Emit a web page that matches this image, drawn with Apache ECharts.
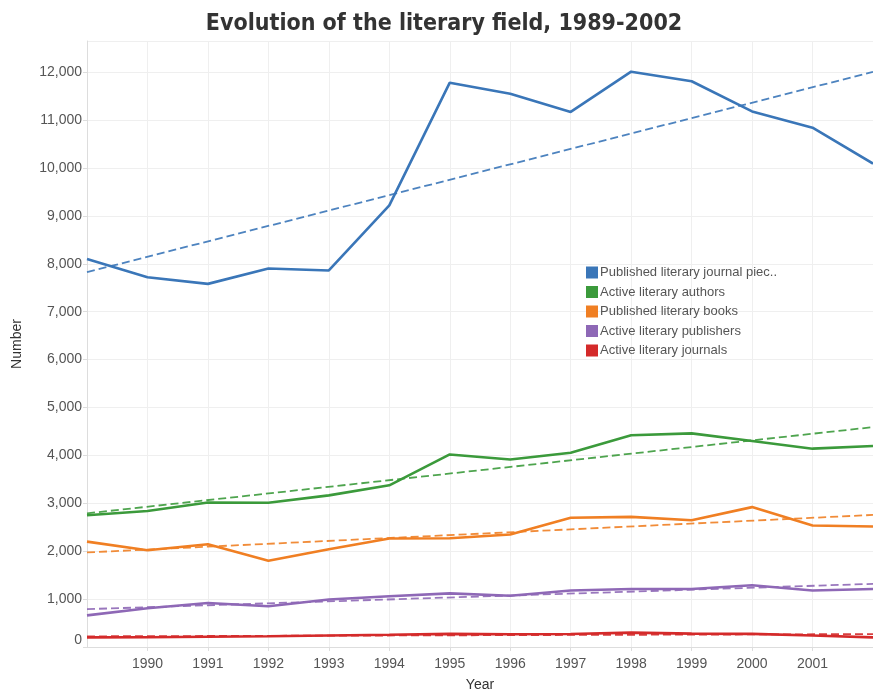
<!DOCTYPE html>
<html>
<head>
<meta charset="utf-8">
<title>Evolution of the literary field, 1989-2002</title>
<script src="https://cdn.jsdelivr.net/npm/echarts@6/dist/echarts.min.js"></script>
<style>
  html, body { margin: 0; padding: 0; background: #fff; }
  #chart { width: 873px; height: 693px; }
</style>
</head>
<body>
<div id="chart"></div>
<script>
// values, one per year
const years = [1989, 1990, 1991, 1992, 1993, 1994, 1995, 1996, 1997, 1998, 1999, 2000, 2001, 2002];
const journalPieces = [8100, 7720, 7580, 7900, 7860, 9220, 11780, 11550, 11170, 12010, 11810, 11180, 10840, 10090];
const authors = [2750, 2840, 3015, 3010, 3165, 3375, 4020, 3915, 4055, 4420, 4460, 4300, 4140, 4195];
const books = [2200, 2020, 2145, 1800, 2040, 2265, 2270, 2347, 2697, 2717, 2647, 2920, 2535, 2515];
const publishers = [660, 810, 920, 850, 990, 1060, 1120, 1070, 1180, 1210, 1210, 1290, 1180, 1210];
const journals = [200, 205, 215, 225, 240, 255, 275, 265, 270, 300, 280, 275, 240, 200];

const seriesNames = [
  'Published literary journal piec..',
  'Active literary authors',
  'Published literary books',
  'Active literary publishers',
  'Active literary journals'
];
const seriesValues = [journalPieces, authors, books, publishers, journals];
const colors = ['#3a76b8', '#3b9a3b', '#f07f23', '#8e68b6', '#d42a2a'];

// least squares trend line, like the tableau one
function trend(vals) {
  const n = vals.length;
  let sx = 0, sy = 0, sxy = 0, sxx = 0;
  for (let i = 0; i < n; i++) {
    sx += years[i]; sy += vals[i];
    sxy += years[i] * vals[i]; sxx += years[i] * years[i];
  }
  const b = (n * sxy - sx * sy) / (n * sxx - sx * sx);
  const a = (sy - b * sx) / n;
  return [[years[0], a + b * years[0]], [years[n - 1], a + b * years[n - 1]]];
}

const chart = echarts.init(document.getElementById('chart'));
const series = [];
seriesValues.forEach(function (vals, i) {
  series.push({
    name: seriesNames[i],
    type: 'line',
    data: vals.map(function (v, k) { return [years[k], v]; }),
    symbol: 'none',
    lineStyle: { width: 2.6, color: colors[i] },
    itemStyle: { color: colors[i] },
    z: 3
  });
  series.push({
    name: seriesNames[i] + ' trend',
    type: 'line',
    data: trend(vals),
    symbol: 'none',
    silent: true,
    lineStyle: { width: 1.8, color: colors[i], type: [8, 4], opacity: 0.9 },
    z: 2
  });
});

const labelFont = { fontFamily: 'Liberation Sans, Arial, sans-serif', fontSize: 14, color: '#555' };

chart.setOption({
  animation: false,
  title: {
    text: 'Evolution of the literary field, 1989-2002',
    left: 439,
    textAlign: 'center',
    top: 8,
    textStyle: {
      fontFamily: 'DejaVu Sans Condensed, DejaVu Sans, sans-serif',
      fontWeight: 'bold',
      fontSize: 23,
      color: '#333'
    }
  },
  legend: {
    data: seriesNames,
    orient: 'vertical',
    left: 581,
    top: 261,
    icon: 'rect',
    itemWidth: 12,
    itemHeight: 12,
    itemGap: 6.5,
    textStyle: { fontFamily: 'Liberation Sans, Arial, sans-serif', fontSize: 13, color: '#555', padding: [0, 0, 0, -3] }
  },
  grid: { left: 87, right: 0, top: 41, bottom: 46, outerBoundsMode: 'none', show: false },
  xAxis: {
    type: 'value',
    min: 1989,
    max: 2002,
    interval: 1,
    name: 'Year',
    nameLocation: 'middle',
    nameGap: 31,
    nameTextStyle: { fontFamily: 'Liberation Sans, Arial, sans-serif', fontSize: 14, color: '#333' },
    axisLine: { show: true, lineStyle: { color: '#ddd' } },
    axisTick: { show: true, length: 4, lineStyle: { color: '#ddd' } },
    axisLabel: Object.assign({
      margin: 10,
      showMinLabel: false,
      showMaxLabel: false,
      formatter: function (v) { return String(v); }
    }, labelFont),
    splitLine: { show: true, lineStyle: { color: '#efefef' } }
  },
  yAxis: {
    type: 'value',
    min: 0,
    max: 12650,
    interval: 1000,
    name: 'Number',
    nameLocation: 'middle',
    nameGap: 63,
    nameTextStyle: { fontFamily: 'Liberation Sans, Arial, sans-serif', fontSize: 14, color: '#333' },
    axisLine: { show: true, lineStyle: { color: '#ddd' } },
    axisTick: { show: true, length: 4, lineStyle: { color: '#ddd' } },
    axisLabel: Object.assign({
      margin: 5,
      showMaxLabel: false,
      verticalAlignMinLabel: 'bottom',
      formatter: function (v) { return v.toLocaleString('en-US'); }
    }, labelFont),
    splitLine: { show: true, lineStyle: { color: '#efefef' } }
  },
  series: series
});
</script>
</body>
</html>
